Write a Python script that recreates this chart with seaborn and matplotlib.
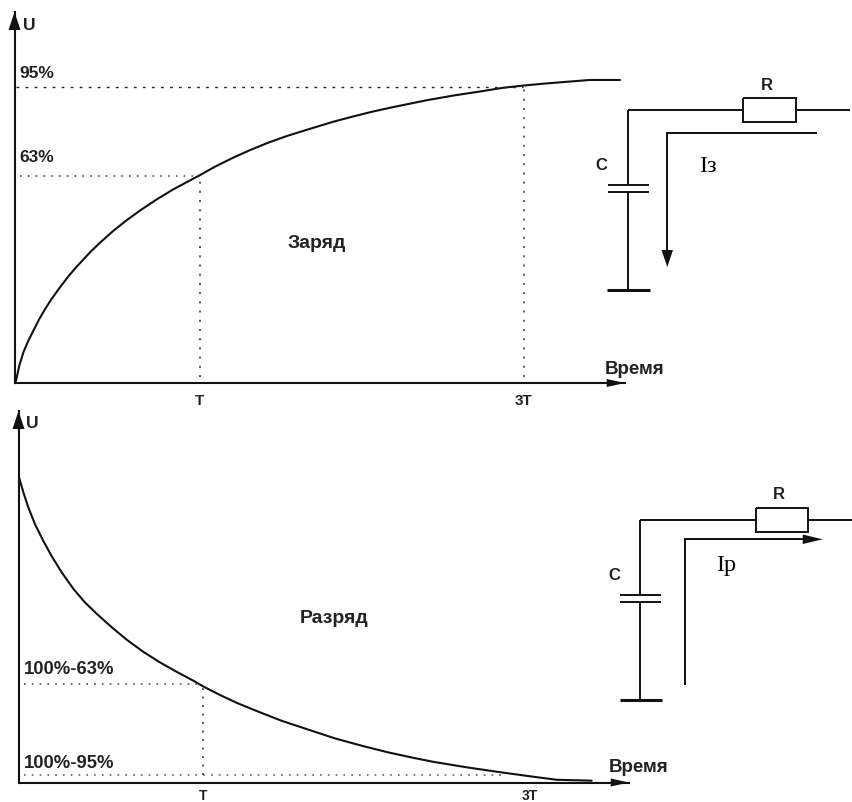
import matplotlib
matplotlib.use('Agg')
import matplotlib.pyplot as plt
import seaborn as sns

# Заряд: время в T, напряжение в %
charge_t = [0, 0.008, 0.026, 0.048, 0.075, 0.102, 0.134, 0.165, 0.201, 0.246, 0.291, 0.336, 0.408, 0.462, 0.534, 0.606,
            0.678, 0.769, 0.858, 0.949, 1.0, 1.084, 1.183, 1.273, 1.372, 1.471, 1.579, 1.723, 1.831, 1.939, 2.047,
            2.138, 2.228, 2.372, 2.516, 2.642, 2.75, 2.858, 3.003, 3.111, 3.273]
charge_u = [0, 0.74, 5.55, 9.85, 13.6, 16.8, 20.5, 23.7, 27, 30.7, 34.2, 37.3, 41.9, 45, 48.8, 52.2,
            55.3, 58.9, 62.1, 65, 66.6, 69.4, 72.3, 74.7, 77.1, 79.2, 81.2, 83.8, 85.5, 87.1, 88.5,
            89.6, 90.7, 92.2, 93.5, 94.7, 95.4, 96, 96.7, 97.2, 97.2]
charge_levels = [66.4, 95.0]
charge_level_labels = ['63%', '95%']
charge_ticks = [1.0, 2.752]

# Разряд
discharge_t = [0, 0.026, 0.053, 0.089, 0.134, 0.18, 0.234, 0.297, 0.36, 0.432, 0.504, 0.585, 0.675, 0.766, 0.856, 0.946,
               1.0, 1.09, 1.181, 1.298, 1.424, 1.568, 1.713, 1.857, 2.001, 2.146, 2.245, 2.425, 2.605, 2.786, 2.912, 3.102]
discharge_u = [101, 95.5, 90.5, 85, 79.5, 74.4, 69.1, 63.7, 59.2, 55, 51.1, 47, 43, 39.5, 36.4, 33.5,
               31.6, 28.8, 26.2, 23.3, 20.3, 17.4, 14.5, 12.1, 9.9, 8, 6.8, 5, 3.4, 1.9, 0.9, 0.6]
discharge_levels = [32.3, 2.6]
discharge_level_labels = ['100%-63%', '100%-95%']
discharge_ticks = [1.0, 2.768]

tick_labels = ['T', '3T']

W, H = 852, 803
sns.set_style('white')
plt.rcParams['font.family'] = ['Liberation Sans', 'DejaVu Sans']
INK = '#111111'
TXT = '#222222'
DOT = (0, (1.1, 4.0))

fig = plt.figure(figsize=(W / 100, H / 100), dpi=100)


def make_axes(x0, y0, x1, y1, pad, size):
    # положение осей задаётся в пикселях картинки
    ax = fig.add_axes([x0 / W, 1 - y0 / H, (x1 - x0) / W, (y0 - y1) / H])
    ax.patch.set_alpha(0)
    sns.despine(ax=ax)
    for s in ['left', 'bottom']:
        ax.spines[s].set_linewidth(1.5)
        ax.spines[s].set_color(INK)
    ax.set_yticks([])
    ax.tick_params(axis='x', length=0, pad=pad, labelsize=size, labelcolor=TXT)
    return ax


def draw_panel(ax, t, u, ticks, levels, xmax, ymax):
    sns.lineplot(x=t, y=u, ax=ax, color=INK, linewidth=1.5, errorbar=None, sort=False)
    ax.set_xlim(0, xmax)
    ax.set_ylim(0, ymax)
    ax.set_xticks(ticks)
    ax.set_xticklabels(tick_labels, fontweight='bold')
    ax.set_xlabel('')
    ax.set_ylabel('')


top = make_axes(14.5, 384, 625, 13, 7.5, 11)
draw_panel(top, charge_t, charge_u, charge_ticks, charge_levels, 3.30, 119)
top.plot([0.03, 1.0], [charge_levels[0]] * 2, color='#444444', lw=1.1, ls=DOT)
top.plot([0.01, 2.75], [charge_levels[1]] * 2, color='#222222', lw=1.0, ls=(0, (2, 4.5)))
top.plot([1.0, 1.0], [2, charge_levels[0]], color='#444444', lw=1.3, ls=DOT)
top.plot([2.752, 2.752], [2, charge_levels[1]], color='#555555', lw=1.3, ls=DOT)

bottom = make_axes(18.5, 783.5, 629, 412, 4, 10)
draw_panel(bottom, discharge_t, discharge_u, discharge_ticks, discharge_levels, 3.304, 122.2)
bottom.plot([0.03, 1.0], [discharge_levels[0]] * 2, color='#444444', lw=1.1, ls=DOT)
bottom.plot([0.03, 2.64], [discharge_levels[1]] * 2, color='#555555', lw=1.1, ls=DOT)
bottom.plot([1.0, 1.0], [discharge_levels[1], discharge_levels[0]], color='#333333', lw=1.2, ls=DOT)

# накладка в пикселях: стрелки осей, схемы и подписи
over = fig.add_axes([0, 0, 1, 1])
over.set_xlim(0, W)
over.set_ylim(H, 0)
over.axis('off')
over.patch.set_alpha(0)


def wire(xs, ys, lw=1.4):
    over.plot(xs, ys, color=INK, lw=lw, solid_capstyle='butt', solid_joinstyle='miter')


def head(xs, ys):
    over.fill(xs, ys, color=INK, lw=0)


def label(x, y, s, size=12.5, **kw):
    kw.setdefault('fontweight', 'bold')
    kw.setdefault('color', TXT)
    over.text(x, y, s, fontsize=size, ha='center', va='center', **kw)


def circuit(dx, dy):
    wire([627.7 + dx, 627.7 + dx], [185.7 + dy, 111 + dy])
    wire([627.7 + dx, 743.3 + dx], [111 + dy, 111 + dy])
    wire([743.3 + dx, 796 + dx, 796 + dx, 743.3 + dx, 743.3 + dx], [99 + dy, 99 + dy, 122.7 + dy, 122.7 + dy, 99 + dy])
    wire([796 + dx, 850 + dx], [111 + dy, 111 + dy])
    wire([607.7 + dx, 649 + dx], [185.7 + dy, 185.7 + dy])
    wire([607.7 + dx, 649 + dx], [193.3 + dy, 193.3 + dy])
    wire([627.7 + dx, 627.7 + dx], [193.3 + dy, 290.7 + dy])
    wire([607.3 + dx, 649.5 + dx], [290.7 + dy, 290.7 + dy], lw=2.2)
    label(767 + dx, 85 + dy, 'R', 12)
    label(601.7 + dx, 165.7 + dy, 'C', 12)


# оси
head([8.5, 20.5, 14.5], [31, 31, 13])
head([606.7, 625, 606.7], [380, 384, 388])
head([12.5, 24.5, 18.5], [430, 430, 412])
head([610.7, 629, 610.7], [779.5, 783.5, 787.5])

# схема заряда
circuit(0, 0)
wire([817, 667.3, 667.3], [134.3, 134.3, 255])
head([661.5, 673, 667.3], [251, 251, 268])
label(708, 166, 'Iз', 17.5, fontweight='normal', family='Liberation Serif', color='black')

# схема разряда
circuit(12.3, 410)
wire([684.7, 684.7, 805], [685.7, 540.3, 540.3])
head([802.7, 822.7, 802.7], [535.5, 540.3, 545])
label(726, 566, 'Iр', 17.5, fontweight='normal', family='Liberation Serif', color='black')

# подписи
label(29, 26, 'U')
label(37, 73, charge_level_labels[1])
label(37, 158, charge_level_labels[0])
label(317, 244, 'Заряд', 14)
label(635, 370, 'Время', 13.5)
label(32.7, 424, 'U')
label(69, 670, discharge_level_labels[0], 13.3)
label(69, 764, discharge_level_labels[1], 13.3)
label(334, 619, 'Разряд', 14)
label(639, 768, 'Время', 13.5)

fig.savefig('out.png', dpi=100, facecolor='white')
